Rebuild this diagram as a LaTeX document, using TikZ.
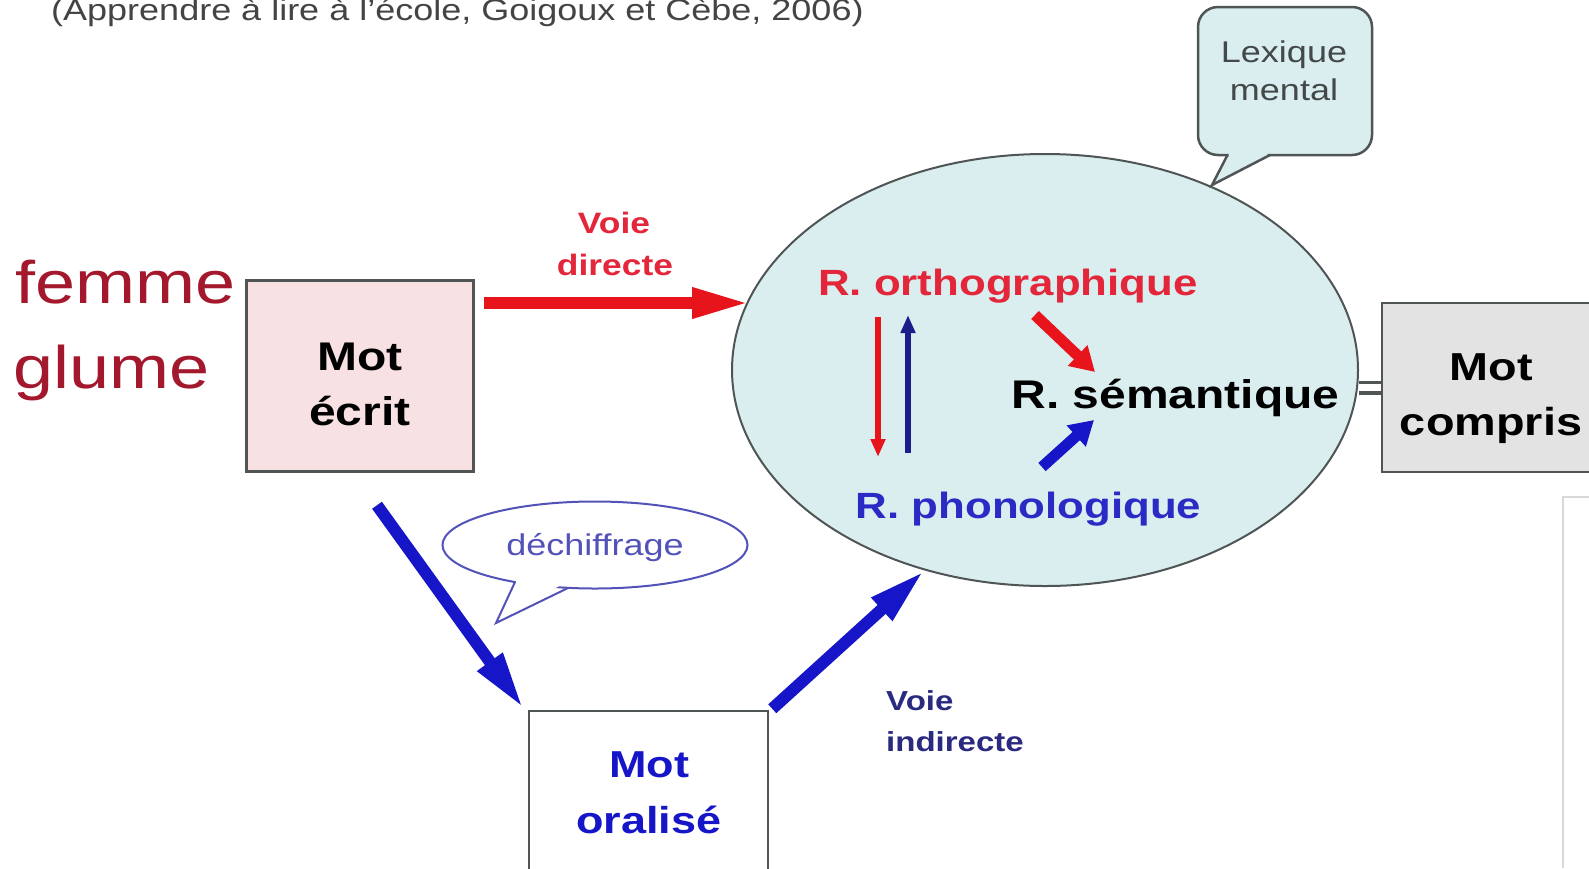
\documentclass[tikz,border=0pt]{standalone}
\usepackage{fontspec}
\setmainfont{Liberation Sans}[FakeStretch=1.2]
\usetikzlibrary{arrows.meta,shapes.geometric}
\definecolor{ortred}{HTML}{E3263A}
\definecolor{arrred}{HTML}{E8141C}
\definecolor{femred}{HTML}{A3182C}
\definecolor{arrblue}{HTML}{1616C8}
\definecolor{navy}{HTML}{1C1C8A}
\definecolor{phonblue}{HTML}{2A2AC4}
\definecolor{indblue}{HTML}{2A2A80}
\definecolor{dechblue}{HTML}{5252B8}
\definecolor{lexfill}{HTML}{DAEEF0}
\definecolor{pinkfill}{HTML}{F8E1E3}
\definecolor{grayfill}{HTML}{E3E3E3}
\definecolor{edgegray}{HTML}{4F5555}
\definecolor{citegray}{HTML}{444444}
\begin{document}
\begin{tikzpicture}[x=1pt,y=1pt,yscale=-1,xscale=1,
    box/.style={draw=edgegray,line width=2.5pt,inner sep=0pt},
    txt/.style={anchor=base,inner sep=0pt},
    fatarrow/.style={line width=12pt,-{Triangle[length=58pt,width=28pt]}},
    midarrow/.style={line width=11pt,-{Triangle[length=24pt,width=27pt]}},
    thinarrow/.style={line width=6pt,-{Triangle[length=18pt,width=14pt]}}]
    \useasboundingbox (0,0) rectangle (1589,868);
    \fill[white] (0,0) rectangle (1589,868);
    \clip (0,0) rectangle (1589,868);
    %Shape: Ellipse
    \node[ellipse,draw=edgegray,line width=2pt,fill=lexfill,minimum width=626pt,minimum height=432pt,inner sep=0pt] (lexique) at (1045,370) {};
    %Shape: Callout
    \node[box,rounded corners=20pt,fill=lexfill,minimum width=174pt,minimum height=148pt] (lexbox) at (1285,81) {};
    \fill[lexfill] (1229,151) -- (1228.5,157) -- (1212,185) -- (1268,157) -- (1267,151) -- cycle;
    \draw[edgegray,line width=2.5pt] (1227.5,155) -- (1212,185) -- (1270,155);
    %Shape: Rectangle
    \node[box,fill=pinkfill,minimum width=227pt,minimum height=191pt] (ecrit) at (360,376) {};
    %Shape: Rectangle
    \node[box,fill=white,minimum width=239pt,minimum height=160pt] (oral) at (648.5,791) {};
    %Shape: Rectangle
    \node[box,fill=grayfill,minimum width=218pt,minimum height=169pt] (compris) at (1491,387.5) {};
    %Shape: Callout
    \node[ellipse,draw=dechblue,line width=2pt,fill=white,minimum width=305pt,minimum height=87pt,inner sep=0pt] (dech) at (595,545) {};
    \fill[white] (518,577) -- (499,618) -- (565,583) -- cycle;
    \draw[dechblue,line width=2pt] (515,582) -- (496,623) -- (568,588);
    %Shape: Rectangle
    \draw[black!15,line width=1.5pt] (1563,868) -- (1563,497) -- (1589,497);

    % Text Node
    \node[txt,anchor=base west,citegray,font=\fontsize{30}{36}\selectfont] (cite) at (51,20) {(Apprendre à lire à l'école, Goigoux et Cèbe, 2006)};
    % Text Node
    \node[txt,anchor=base west,femred,font=\fontsize{60}{72}\selectfont] (femme) at (15,303) {femme};
    % Text Node
    \node[txt,anchor=base west,femred,font=\fontsize{60}{72}\selectfont] (glume) at (13,388) {glume};
    % Text Node
    \node[txt,font=\fontsize{40}{48}\selectfont\bfseries] (ecrit1) at (360,370) {Mot};
    \node[txt,font=\fontsize{40}{48}\selectfont\bfseries] (ecrit2) at (360,425) {écrit};
    % Text Node
    \node[txt,arrblue,font=\fontsize{37.5}{45}\selectfont\bfseries] (oral1) at (649,777) {Mot};
    \node[txt,arrblue,font=\fontsize{37.5}{45}\selectfont\bfseries] (oral2) at (649,833) {oralisé};
    % Text Node
    \node[txt,font=\fontsize{39}{47}\selectfont\bfseries] (compris1) at (1491,380) {Mot};
    \node[txt,font=\fontsize{39}{47}\selectfont\bfseries] (compris2) at (1491,435) {compris};
    % Text Node
    \node[txt,ortred,font=\fontsize{29.5}{36}\selectfont\bfseries] (directe1) at (614,233) {Voie};
    \node[txt,ortred,font=\fontsize{29.5}{36}\selectfont\bfseries] (directe2) at (615,275) {directe};
    % Text Node
    \node[txt,anchor=base west,indblue,font=\fontsize{27.5}{34}\selectfont\bfseries] (indirecte1) at (886,710) {Voie};
    \node[txt,anchor=base west,indblue,font=\fontsize{27.5}{34}\selectfont\bfseries] (indirecte2) at (886,751) {indirecte};
    % Text Node
    \node[txt,color=edgegray!85!black,font=\fontsize{30}{36}\selectfont] (lex1) at (1284,62) {Lexique};
    \node[txt,color=edgegray!85!black,font=\fontsize{30}{36}\selectfont] (lex2) at (1284,100) {mental};
    % Text Node
    \node[txt,dechblue,font=\fontsize{30}{36}\selectfont] (dechtxt) at (595,555) {déchiffrage};
    % Text Node
    \node[txt,ortred,font=\fontsize{36.5}{44}\selectfont\bfseries] (ortho) at (1008,295) {R. orthographique};
    % Text Node
    \node[txt,font=\fontsize{40}{48}\selectfont\bfseries] (seman) at (1175.5,408) {R. sémantique};
    % Text Node
    \node[txt,phonblue,font=\fontsize{36.5}{44}\selectfont\bfseries] (phono) at (1028.5,518) {R. phonologique};

    %Straight Lines
    \draw[fatarrow,arrred] ([xshift=9.5pt,yshift=-73pt]ecrit.east) -- ([xshift=19pt,yshift=-67pt]lexique.west);
    %Straight Lines
    \draw[fatarrow,arrblue] ([xshift=17pt,yshift=32.5pt]ecrit.south) -- ([xshift=-4pt,yshift=-1pt]oral.north west);
    %Straight Lines
    \draw[fatarrow,arrblue] ([xshift=3pt,yshift=-1pt]oral.north east) -- (lexique.239);
    %Straight Lines
    \draw[thinarrow,arrred] ([xshift=-130pt,yshift=22pt]ortho.base) -- ([xshift=-150.5pt,yshift=-61pt]phono.base);
    %Straight Lines
    \draw[thinarrow,navy] ([xshift=-120.5pt,yshift=-65pt]phono.base) -- ([xshift=-100pt,yshift=20pt]ortho.base);
    %Straight Lines
    \draw[midarrow,arrred] ([xshift=27pt,yshift=20pt]ortho.base) -- ([xshift=-80.5pt,yshift=-36pt]seman.base);
    %Straight Lines
    \draw[midarrow,arrblue] ([xshift=13.5pt,yshift=-51pt]phono.base) -- ([xshift=-81.5pt,yshift=12pt]seman.base);
    %Straight Lines
    \draw[edgegray,line width=3.5pt,double=white,double distance=7pt] (compris.west) -- (lexique.east |- compris.west);
\end{tikzpicture}
\end{document}
